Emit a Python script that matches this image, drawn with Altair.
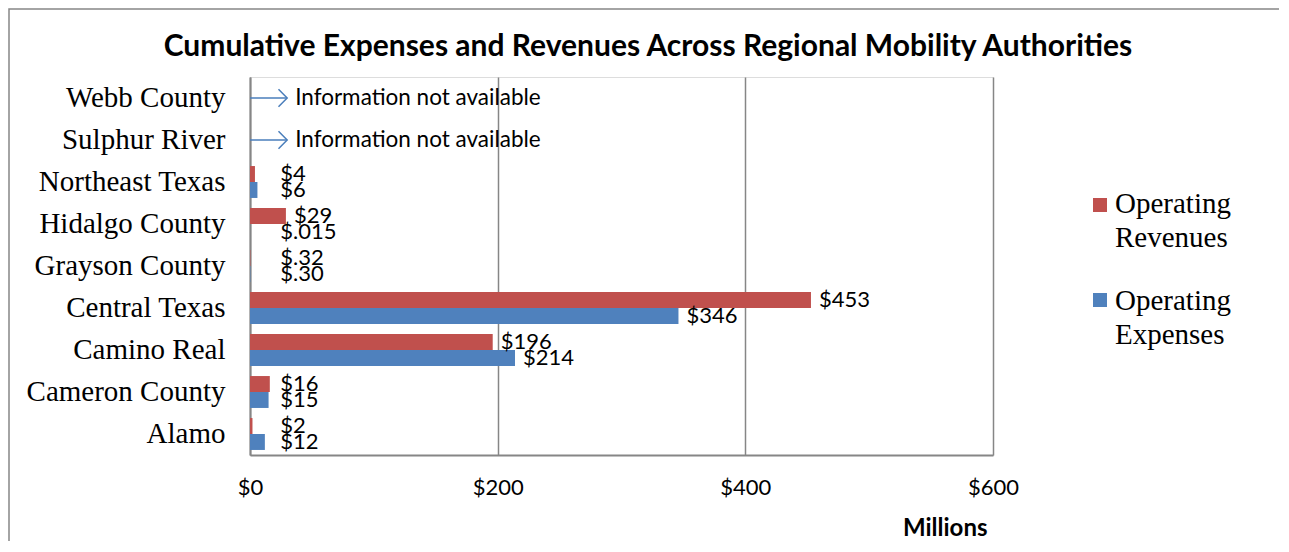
import altair as alt
import pandas as pd

categories = ["Webb County", "Sulphur River", "Northeast Texas", "Hidalgo County",
              "Grayson County", "Central Texas", "Camino Real", "Cameron County", "Alamo"]
series = ["Operating Revenues", "Operating Expenses"]
revenues = [None, None, 4, 29, 0.32, 453, 196, 16, 2]
expenses = [None, None, 6, 0.015, 0.30, 346, 214, 15, 12]
rev_labels = ["", "", "$4", "$29", "$.32", "$453", "$196", "$16", "$2"]
exp_labels = ["", "", "$6", "$.015", "$.30", "$346", "$214", "$15", "$12"]
na_categories = ["Webb County", "Sulphur River"]
na_text = "Information not available"
na_arrow_len = 30
tick_values = [0, 200, 400, 600]
title_text = "Cumulative Expenses and Revenues Across Regional Mobility Authorities"
colors = ["#C0504D", "#4F81BD"]

rows = []
for s, vals, labs in [(series[0], revenues, rev_labels), (series[1], expenses, exp_labels)]:
    for c, v, l in zip(categories, vals, labs):
        if v is not None:
            rows.append({"category": c, "series": s, "value": v, "label": l})
df = pd.DataFrame(rows)
na_df = pd.DataFrame({"category": na_categories, "x0": [0, 0],
                      "x1": [na_arrow_len, na_arrow_len], "text": [na_text, na_text]})

W, H = 743, 378
GRAY = "#868686"
BLUE_LINE = "#4A7EBB"

yscale = alt.Scale(domain=categories, paddingInner=0.24, paddingOuter=0.12)
xscale = alt.Scale(domain=[0, 600], nice=False)

y_enc = alt.Y("category:N", sort=categories, scale=yscale,
              axis=alt.Axis(title=None, labelFont="Liberation Serif", labelFontSize=29,
                            labelColor="black", ticks=False, domainColor=GRAY, domainWidth=2,
                            labelPadding=25, labelLimit=400, grid=False))
x_axis = alt.Axis(values=tick_values, labelExpr="'$' + datum.value", grid=True,
                  gridColor=GRAY, gridWidth=1.5, ticks=False, domainColor=GRAY, domainWidth=2,
                  labelFont="Lato", labelFontSize=22, labelColor="black", labelPadding=22,
                  labelFlush=False, labelOverlap=False,
                  title="Millions", titleFont="Lato", titleFontSize=24, titleFontWeight="bold",
                  titleColor="black", titleAnchor="end", titleAlign="right", titleX=737,
                  titleY=73, titleBaseline="middle")

base = alt.Chart(df)
bars = base.mark_bar().encode(
    y=y_enc,
    x=alt.X("value:Q", scale=xscale, axis=x_axis),
    yOffset=alt.YOffset("series:N", sort=series, scale=alt.Scale(domain=series)),
    color=alt.Color("series:N", scale=alt.Scale(domain=series, range=colors), legend=None),
)
labels = base.transform_calculate(lx="max(datum.value, 18)").mark_text(
    align="left", baseline="middle", dx=8, font="Lato", fontSize=22, color="black"
).encode(
    y=alt.Y("category:N", sort=categories, scale=yscale),
    x=alt.X("lx:Q", scale=xscale),
    yOffset=alt.YOffset("series:N", sort=series, scale=alt.Scale(domain=series)),
    text="label:N",
)

na_base = alt.Chart(na_df)
na_y = alt.Y("category:N", sort=categories, scale=yscale)
arrow_line = na_base.mark_rule(color=BLUE_LINE, strokeWidth=1.5).encode(
    y=na_y, x=alt.X("x0:Q", scale=xscale), x2="x1:Q")
arrow_head = na_base.mark_point(shape="M-1,-1L0,0L-1,1", filled=False, size=300,
                                color=BLUE_LINE, strokeWidth=1.5, opacity=1).encode(
    y=na_y, x=alt.X("x1:Q", scale=xscale))
na_label = na_base.mark_text(align="left", baseline="middle", dx=8, font="Lato",
                             fontSize=22.5, color="black").encode(
    y=na_y, x=alt.X("x1:Q", scale=xscale), text="text:N")

legend_layers = []
for i, s in enumerate(series):
    one = alt.Chart(pd.DataFrame({"t": [s.replace(" ", "\n")]}))
    legend_layers.append(one.mark_square(size=196, color=colors[i], opacity=1).encode(
        x=alt.value(850), y=alt.value(128 + 95 * i)))
    legend_layers.append(one.mark_text(align="left", baseline="alphabetic", lineBreak="\n",
                                       lineHeight=34, font="Liberation Serif", fontSize=29,
                                       color="black").encode(
        x=alt.value(865), y=alt.value(136 + 97 * i), text="t:N"))

title = alt.Chart(pd.DataFrame({"t": [title_text]})).mark_text(
    align="center", baseline="middle", font="Lato", fontSize=30, fontWeight="bold",
    color="black").encode(x=alt.value(398), y=alt.value(-30), text="t:N")

frame = alt.Chart(pd.DataFrame({"a": [0]})).mark_rect(
    fillOpacity=0, stroke=GRAY, strokeWidth=1.5).encode(
    x=alt.value(-241), x2=alt.value(1200), y=alt.value(-68), y2=alt.value(700))

chart = alt.layer(frame, bars, labels, arrow_line, arrow_head, na_label, title,
                  *legend_layers).properties(
    width=W, height=H,
    padding={"left": 242, "top": 69, "right": 286, "bottom": 86},
    autosize=alt.AutoSizeParams(type="none"),
).configure_view(stroke="#4F81BD", strokeWidth=1.5).configure(background="white")

chart.save("out.html", embed_options={"renderer": "svg", "actions": False})
